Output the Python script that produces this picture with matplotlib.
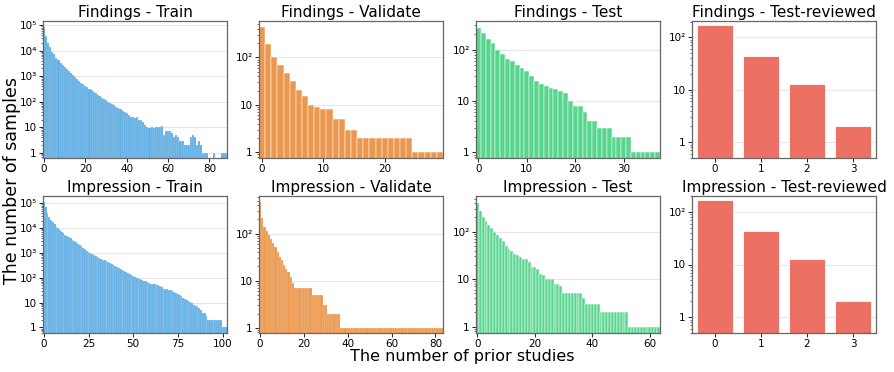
import matplotlib
matplotlib.use("Agg")
import matplotlib.pyplot as plt
from matplotlib.ticker import FuncFormatter, LogLocator, NullFormatter


# number of samples per count of prior studies (index = number of priors)
findings_train = [
    87000, 39000, 20000, 13500, 9200, 7100, 5300, 4200, 3400, 2800,
    2300, 1900, 1550, 1300, 1100, 920, 780, 660, 560, 480,
    420, 370, 320, 280, 245, 215, 190, 165, 145, 125,
    112, 100, 92, 84, 72, 64, 56, 50, 44, 40,
    35, 30, 26, 24, 22, 25, 19, 20, 16, 12,
    10, 9, 10, 9, 10, 10, 10, 11, 5, 7,
    7, 7, 6, 4, 5, 4, 3, 3, 2, 2,
    2, 4, 5, 4, 2, 3, 2, 1, 1, 1,
    0, 0, 1, 0, 0, 0, 1, 1, 1,
]
findings_validate = [
    440, 188, 103, 68, 48, 32, 21, 15, 10, 9,
    8, 8, 5, 5, 3, 3, 2, 2, 2, 2,
    2, 2, 2, 2, 2, 1, 1, 1, 1, 1,
]
findings_test = [
    268, 210, 158, 135, 100, 81, 67, 59, 51, 44,
    38, 30, 25, 21, 20, 18, 17, 16, 14, 10,
    8, 8, 6, 4, 4, 3, 3, 3, 2, 2,
    2, 2, 1, 1, 1, 1, 1, 1,
]
findings_reviewed = [171, 44, 13, 2]

impression_train = [
    115000, 73000, 40000, 27500, 21000, 18000, 14000, 11500, 10000, 8400,
    7100, 6200, 5400, 4800, 4300, 3900, 3400, 3000, 2650, 2350,
    2100, 1850, 1650, 1450, 1200, 1050, 950, 880, 800, 740,
    690, 640, 590, 540, 500, 465, 430, 395, 360, 330,
    300, 280, 255, 230, 205, 188, 170, 155, 140, 128,
    118, 108, 100, 95, 88, 82, 76, 72, 68, 62,
    58, 56, 54, 52, 51, 48, 42, 37, 35, 34,
    33, 32, 30, 27, 25, 23, 20, 18, 15, 14,
    13, 12, 11, 10, 8, 7, 7, 6, 5, 4,
    4, 3, 2, 2, 2, 2, 2, 2, 2, 2,
    1, 1, 1,
]
impression_validate = [
    460, 210, 140, 115, 95, 78, 64, 52, 40, 32,
    28, 22, 18, 15, 12, 9, 7, 7, 7, 7,
    7, 7, 7, 7, 5, 5, 5, 5, 5, 3,
    3, 2, 2, 2, 2, 2, 2, 1, 1, 1,
    1, 1, 1, 1, 1, 1, 1, 1, 1, 1,
    1, 1, 1, 1, 1, 1, 1, 1, 1, 1,
    1, 1, 1, 1, 1, 1, 1, 1, 1, 1,
    1, 1, 1, 1, 1, 1, 1, 1, 1, 1,
    1, 1, 1, 1,
]
impression_test = [
    410, 267, 206, 170, 140, 119, 97, 87, 74, 63,
    51, 44, 39, 34, 32, 29, 27, 26, 23, 18,
    18, 16, 13, 12, 10, 10, 10, 8, 8, 7,
    5, 5, 5, 5, 5, 5, 5, 4, 3, 3,
    3, 3, 3, 2, 2, 2, 2, 2, 2, 2,
    2, 2, 2, 1, 1, 1, 1, 1, 1, 1,
    1, 1, 1, 1,
]
impression_reviewed = [171, 44, 13, 2]

titles = [
    "Findings - Train", "Findings - Validate", "Findings - Test", "Findings - Test-reviewed",
    "Impression - Train", "Impression - Validate", "Impression - Test", "Impression - Test-reviewed",
]
series = [
    findings_train, findings_validate, findings_test, findings_reviewed,
    impression_train, impression_validate, impression_test, impression_reviewed,
]

colors = ["#5DADE2", "#EB984E", "#58D68D", "#EC7063"]
ylims = [
    (0.62, 1.45e5), (0.75, 590), (0.78, 359), (0.5, 205),
    (0.6, 1.95e5), (0.77, 630), (0.73, 565), (0.5, 200),
]
SUP = {1: "1", 10: "10", 100: "10\u00b2", 1000: "10\u00b3", 10000: "10\u2074", 100000: "10\u2075"}


def log_label(v, pos):
    return SUP.get(int(round(v)), "")


W, H = 895, 372
fig = plt.figure(figsize=(W / 100, H / 100), dpi=100)

lefts = [43, 259, 476, 692]
tops = [21, 196]
ax_w, ax_h = 184, 137

for i, (title, values) in enumerate(zip(titles, series)):
    row, col = divmod(i, 4)
    ax = fig.add_axes([lefts[col] / W, 1 - (tops[row] + ax_h) / H, ax_w / W, ax_h / H])
    x = list(range(len(values)))
    width = 0.8 if col == 3 else 1.0
    # thinner white separators when bars are narrow
    lw = 0.6 if col == 3 else (0.12 if len(values) > 70 else 0.35)
    ax.bar(x, values, width=width, color=colors[col], edgecolor="white",
           linewidth=lw, zorder=2)
    ax.set_yscale("log")
    ax.set_ylim(*ylims[i])
    ax.set_xlim(-0.5, len(values) - 0.5)
    if col == 3:
        ax.set_xticks(x)
    ax.yaxis.set_major_locator(LogLocator(base=10))
    ax.yaxis.set_major_formatter(FuncFormatter(log_label))
    ax.yaxis.set_minor_formatter(NullFormatter())
    ax.grid(axis="y", which="major", color="#e6e6e6", linewidth=0.8, zorder=0)
    ax.set_axisbelow(True)
    ax.tick_params(axis="both", which="major", labelsize=7.5, length=3, width=0.6, pad=1.5)
    ax.tick_params(axis="y", which="minor", length=1.5, width=0.4)
    for s in ax.spines.values():
        s.set_color("#666666")
        s.set_linewidth(0.9)
    ax.set_title(title, fontsize=11, pad=3)

fig.text(12 / W, 1 - 180 / H, "The number of samples", rotation=90,
         ha="center", va="center", fontsize=12.5)
fig.text(462 / W, 1 - 357 / H, "The number of prior studies",
         ha="center", va="center", fontsize=11.5)

fig.savefig("out.png", dpi=100)
